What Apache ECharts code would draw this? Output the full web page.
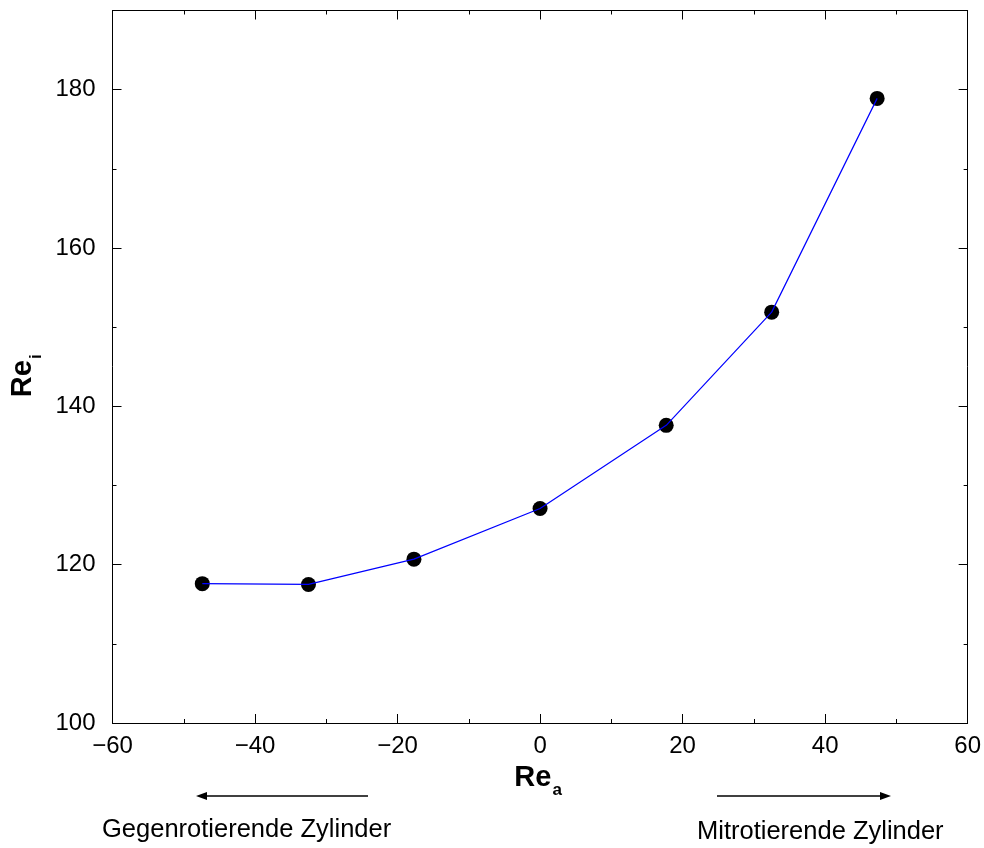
<!DOCTYPE html>
<html>
<head>
<meta charset="utf-8">
<script src="https://cdn.jsdelivr.net/npm/echarts@6/dist/echarts.min.js"></script>
<style>
html,body{margin:0;padding:0;background:#fff;}
#chart{width:984px;height:848px;}
</style>
</head>
<body>
<div id="chart"></div>
<script>
// Data
const reA = [-47.4, -32.5, -17.7, 0, 17.7, 32.5, 47.3];
const reI = [117.6, 117.5, 120.7, 127.1, 137.6, 151.9, 178.9];
const xTicks = [-60, -40, -20, 0, 20, 40, 60];
const yTicks = [100, 120, 140, 160, 180];
const leftNote = 'Gegenrotierende Zylinder';
const rightNote = 'Mitrotierende Zylinder';

const pts = reA.map((x, i) => [x, reI[i]]);
const FONT = "'Liberation Sans', Arial, Helvetica, sans-serif";
const minus = v => String(v).replace('-', '\u2212');

const axisCommon = {
  axisLine: { show: true, onZero: false, lineStyle: { color: '#000', width: 1 } },
  axisTick: { show: true, inside: true, length: 9, lineStyle: { color: '#000', width: 1 } },
  minorTick: { show: true, splitNumber: 2, length: 4, lineStyle: { color: '#000', width: 1 } },
  splitLine: { show: false },
  minorSplitLine: { show: false }
};

const nameRich = {
  b: { fontFamily: FONT, fontSize: 29, fontWeight: 'bold', color: '#000', lineHeight: 30, verticalAlign: 'top' },
  s: { fontFamily: FONT, fontSize: 17, fontWeight: 'bold', color: '#000', lineHeight: 17, verticalAlign: 'top', padding: [19, 0, 0, 1] }
};

const chart = echarts.init(document.getElementById('chart'), null, { renderer: 'canvas' });
const option = {
  backgroundColor: '#fff',
  animation: false,
  grid: { left: 112.5, right: 16, top: 10.5, bottom: 125, containLabel: false },
  xAxis: [
    Object.assign({}, axisCommon, {
      type: 'value', position: 'bottom', min: -60, max: 60, interval: 20,
      axisLabel: { fontFamily: FONT, fontSize: 24, color: '#000', margin: 11,
        formatter: v => xTicks.includes(v) ? minus(v) : '' },
      name: '{b|Re}{s|a}', nameLocation: 'middle', nameGap: 40,
      nameTextStyle: { rich: nameRich, padding: [0, 4, 0, 0] }
    }),
    Object.assign({}, axisCommon, {
      type: 'value', position: 'top', min: -60, max: 60, interval: 20,
      axisLabel: { show: false }
    })
  ],
  yAxis: [
    Object.assign({}, axisCommon, {
      type: 'value', position: 'left', min: 100, max: 190, interval: 20,
      axisLabel: { fontFamily: FONT, fontSize: 24, color: '#000', margin: 17,
        formatter: v => yTicks.includes(v) ? String(v) : '' },
      name: '{b|Re}{s|i}', nameLocation: 'middle', nameGap: 72, nameRotate: 90,
      nameTextStyle: { rich: nameRich, padding: [0, 18, 0, 0] }
    }),
    Object.assign({}, axisCommon, {
      type: 'value', position: 'right', min: 100, max: 190, interval: 20,
      axisLabel: { show: false }
    })
  ],
  series: [
    {
      type: 'scatter', data: pts, symbol: 'circle', symbolSize: 15,
      itemStyle: { color: '#000', opacity: 1 }, z: 2, silent: true
    },
    {
      type: 'line', data: pts, symbol: 'none',
      lineStyle: { color: '#0000ff', width: 1.2 }, z: 3, silent: true
    }
  ],
  graphic: [
    { type: 'line', shape: { x1: 205, y1: 796, x2: 368, y2: 796 }, style: { stroke: '#000', lineWidth: 1.6 } },
    { type: 'polygon', shape: { points: [[196, 796], [207, 792], [207, 800]] }, style: { fill: '#000' } },
    { type: 'line', shape: { x1: 717, y1: 796, x2: 882, y2: 796 }, style: { stroke: '#000', lineWidth: 1.6 } },
    { type: 'polygon', shape: { points: [[891, 796], [880, 792], [880, 800]] }, style: { fill: '#000' } },
    { type: 'text', left: 102, top: 817, style: { text: leftNote, font: '25.5px ' + FONT, fill: '#000' } },
    { type: 'text', left: 697, top: 819, style: { text: rightNote, font: '25.5px ' + FONT, fill: '#000' } }
  ]
};
chart.setOption(option);
</script>
</body>
</html>
